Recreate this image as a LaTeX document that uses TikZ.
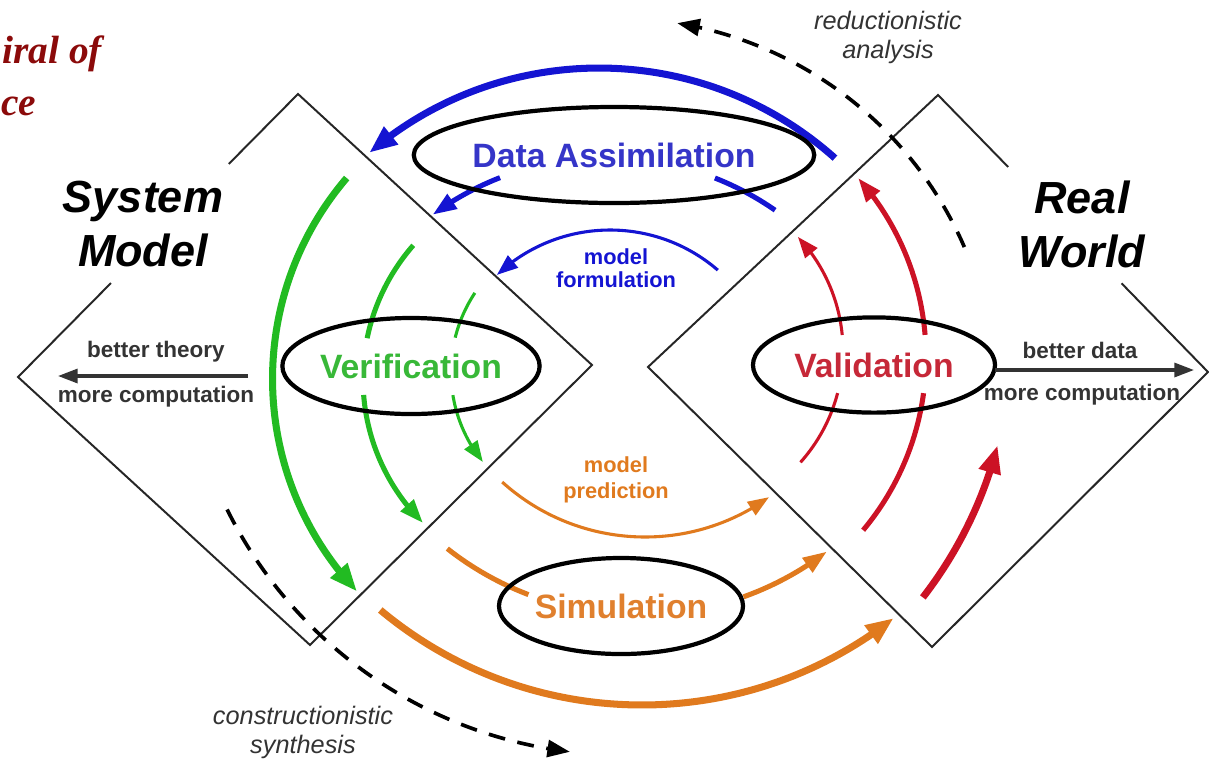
\documentclass[tikz,border=0pt]{standalone}
\usepackage{fontspec}
\setmainfont{Liberation Serif}
\setsansfont{Liberation Sans}
\usetikzlibrary{arrows.meta,calc,shapes.geometric,bending}
\definecolor{grn}{HTML}{22BB22}
\definecolor{blu}{HTML}{1414D2}
\definecolor{org}{HTML}{E07A1E}
\definecolor{rd}{HTML}{CC1225}
\definecolor{ttl}{HTML}{8B0A0A}
\definecolor{ink}{HTML}{333333}
\definecolor{dtxt}{HTML}{3535C8}
\definecolor{vtxt}{HTML}{38B838}
\definecolor{ltxt}{HTML}{C62838}
\definecolor{stxt}{HTML}{E0802E}

\begin{document}
\begin{tikzpicture}[x=0.025cm,y=-0.025cm,font=\sffamily,
    rim/.style={line width=1.4pt,black!85},
    w1/.style={line width=5pt},
    w2/.style={line width=3.6pt},
    w3/.style={line width=2.2pt},
    t1/.style={-{Triangle[length=20pt,width=15pt]}},
    t2/.style={-{Triangle[length=17pt,width=12pt]}},
    t3/.style={-{Triangle[length=15pt,width=11pt]}},
    dsh/.style={line width=2.6pt,dash pattern=on 12pt off 9pt,
                -{Triangle[length=16pt,width=12pt]}},
    ell/.style={ellipse,draw=black,line width=3pt,inner sep=0pt,
                font=\sffamily\bfseries\fontsize{24}{27}\selectfont},
    side/.style={ink,font=\sffamily\bfseries\fontsize{16}{18}\selectfont},
    gap/.style={ink,line width=2.2pt,-{Triangle[length=14pt,width=10pt]}},
    note/.style={ink,align=center,font=\sffamily\itshape\fontsize{18}{20.6}\selectfont},
    big/.style={align=center,font=\sffamily\bfseries\itshape\fontsize{32}{38.4}\selectfont},
    head/.style={anchor=base west,inner sep=0pt,text=ttl,
                 font=\rmfamily\bfseries\itshape\fontsize{28}{32}\selectfont}]
  \useasboundingbox (0,0) rectangle (1209,759);

  % green: verification
  \draw[grn,w1,t1] ($(582,379)+(220.5:309.5)$) arc[start angle=220.5,end angle=136.6,radius=309.5];
  \draw[grn,w2] ($(566,379)+(221.2:203)$) arc[start angle=221.2,end angle=191.6,radius=203];
  \draw[grn,w2,t2] ($(566,379)+(175.5:203)$) arc[start angle=175.5,end angle=134.8,radius=203];
  \draw[grn,w3] ($(594,372)+(213.6:143)$) arc[start angle=213.6,end angle=193.9,radius=143];
  \draw[grn,w3,t3] ($(594,372)+(170.7:143)$) arc[start angle=170.7,end angle=141,radius=143];

  % blue: data assimilation
  \draw[blu,w1,t1] ($(599,422)+(-48.2:354)$) arc[start angle=-48.2,end angle=-130.5,radius=354];
  \draw[blu,w2] ($(607,452)+(-55.2:294.5)$) arc[start angle=-55.2,end angle=-68.5,radius=294.5];
  \draw[blu,w2,t2] ($(607,452)+(-111.3:294.5)$) arc[start angle=-111.3,end angle=-126.3,radius=294.5];
  \draw[blu,w3,t3] ($(610,395)+(-49.2:165)$) arc[start angle=-49.2,end angle=-133.3,radius=165];

  % orange: simulation
  \draw[org,w3,t3] ($(645,324)+(132.1:213)$) arc[start angle=132.1,end angle=54.4,radius=213];
  \draw[org,w2] ($(639,305)+(128.2:310)$) arc[start angle=128.2,end angle=110.9,radius=310];
  \draw[org,w2,t2] ($(639,305)+(70.3:310)$) arc[start angle=70.3,end angle=52.7,radius=310];
  \draw[org,w1,t1] ($(642,297)+(129.9:408)$) arc[start angle=129.9,end angle=51.9,radius=408];

  % red: validation
  \draw[rd,w3] ($(676,351)+(41.8:167)$) arc[start angle=41.8,end angle=14.6,radius=167];
  \draw[rd,w3,t3] ($(676,351)+(-5.5:167)$) arc[start angle=-5.5,end angle=-43.1,radius=167];
  \draw[rd,w2] ($(656,357)+(39.9:270)$) arc[start angle=39.9,end angle=7.7,radius=270];
  \draw[rd,w2,t2] ($(656,357)+(-4.7:270)$) arc[start angle=-4.7,end angle=-41.5,radius=270];
  \draw[rd,w1,t1] ($(591,340)+(37.8:420)$) arc[start angle=37.8,end angle=14.5,radius=420];

  % the two squares
  \coordinate (lt) at (298,94);  \coordinate (ll) at (18,377);
  \coordinate (lb) at (310,645); \coordinate (lr) at (592,365);
  \coordinate (rt) at (938,95);  \coordinate (rl) at (648,367);
  \coordinate (rb) at (932,647); \coordinate (rr) at (1208,372);
  \draw[rim] ($(lt)!0.247!(ll)$) -- (lt) -- (lr) -- (lb) -- (ll) -- ($(lt)!0.668!(ll)$);
  \draw[rim] ($(rt)!0.26!(rr)$) -- (rt) -- (rl) -- (rb) -- (rr) -- ($(rt)!0.68!(rr)$);

  % dashed arrows
  \draw[dsh] ($(615,399)+(-23.5:381)$) arc[start angle=-23.5,end angle=-80.6,radius=381];
  \draw[dsh] ($(623,313)+(153.6:442)$) arc[start angle=153.6,end angle=96.9,radius=442];

  \node[ell,minimum width=8.7cm,minimum height=2.4cm,text=dtxt] (dass) at (614,155) {Data Assimilation};
  \node[ell,minimum width=6.05cm,minimum height=2.4cm,text=vtxt] (veri) at (411,366) {Verification};
  \node[ell,minimum width=6.05cm,minimum height=2.38cm,text=ltxt] (vali) at (874,365) {Validation};
  \node[ell,minimum width=6.1cm,minimum height=2.4cm,text=stxt] (simu) at (621,606) {Simulation};

  \coordinate (thl) at (248,376); \coordinate (thr) at (58,376);
  \draw[gap] (thl) -- (thr);
  \node[side] (bth) at (156,352) {better theory};
  \node[side] (mcl) at (156,397) {more computation};
  \coordinate (dal) at (995,370); \coordinate (dar) at (1194,370);
  \draw[gap] (dal) -- (dar);
  \node[side] (bda) at (1080,350) {better data};
  \node[side] (mcr) at (1082,395) {more computation};

  \node[blu,align=center,font=\sffamily\bfseries\fontsize{15.5}{16.4}\selectfont] (mform) at (616,268) {model\\formulation};
  \node[org,align=center,font=\sffamily\bfseries\fontsize{15.5}{18.5}\selectfont] (mpred) at (616,480) {model\\prediction};

  \node[note] (redu) at (888,37) {reductionistic\\analysis};
  \node[note] (cons) at (303,732) {constructionistic\\synthesis};

  \node[big] (sysm) at (143,224) {System\\Model};
  \node[big] (rwld) at (1082,224) {Real\\World};

  \node[head] (ttla) at (2,63) {iral of};
  \node[head] (ttlb) at (1,115) {ce};
\end{tikzpicture}
\end{document}
